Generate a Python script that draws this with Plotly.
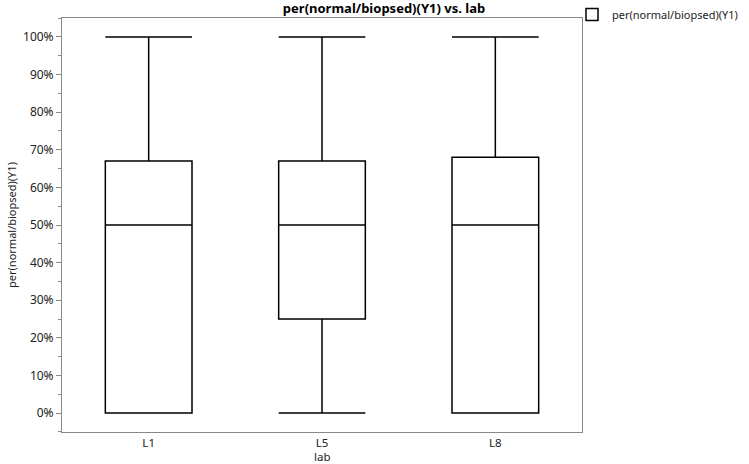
import plotly.graph_objects as go

labs = ["L1", "L5", "L8"]
lower = [0.0, 0.0, 0.0]
q1 = [0.0, 0.25, 0.0]
median = [0.5, 0.5, 0.5]
q3 = [0.67, 0.67, 0.68]
upper = [1.0, 1.0, 1.0]
tick_vals = [i / 10 for i in range(11)]

fig = go.Figure()
fig.add_trace(go.Box(
    x=labs, q1=q1, median=median, q3=q3, lowerfence=lower, upperfence=upper,
    name="per(normal/biopsed)(Y1)",
    fillcolor="white", line=dict(color="black", width=1.5),
    whiskerwidth=1, width=0.5, showlegend=True, boxpoints=False,
))

font = "Noto Sans, Open Sans, sans-serif"
fig.update_layout(
    width=749, height=464,
    margin=dict(l=62, r=167, t=18, b=32, autoexpand=False),
    paper_bgcolor="white", plot_bgcolor="white",
    font=dict(family=font, size=12, color="#222"),
    title=dict(text="<b>per(normal/biopsed)(Y1) vs. lab</b>", x=(62 + 322) / 749, xanchor="center",
               y=1 - 8 / 464, yanchor="middle", font=dict(size=13, color="black")),
    legend=dict(xref="container", yref="container", x=572 / 749, y=1.0 + 2 / 464, xanchor="left", yanchor="top",
                font=dict(size=11, color="#222"), bgcolor="rgba(0,0,0,0)", itemwidth=30),
    xaxis=dict(range=[-0.5, 2.5], showline=True, mirror=True, linecolor="#888", linewidth=1,
               ticks="", showgrid=False, zeroline=False, ticklabelstandoff=0,
               tickfont=dict(size=11.5)),
    yaxis=dict(range=[-0.0505, 1.0505], showline=True, mirror=True, linecolor="#888", linewidth=1,
               tickvals=tick_vals, tickformat=".0%", ticks="outside", ticklen=5, tickcolor="#888",
               minor=dict(dtick=0.05, ticks="outside", ticklen=3, tickcolor="#888", tick0=0.05),
               showgrid=False, zeroline=False,
               title=dict(text="per(normal/biopsed)(Y1)", standoff=4, font=dict(size=11, color="#222"))),
    annotations=[dict(text="lab", xref="paper", yref="paper", x=0.5, y=-(456 - 432) / 414,
                      xanchor="center", yanchor="middle", showarrow=False, borderpad=0,
                      font=dict(size=11.5, color="#222"))],
)
fig.write_html("out.html", config={"displayModeBar": False},
               post_script="document.body.style.margin='0';")
